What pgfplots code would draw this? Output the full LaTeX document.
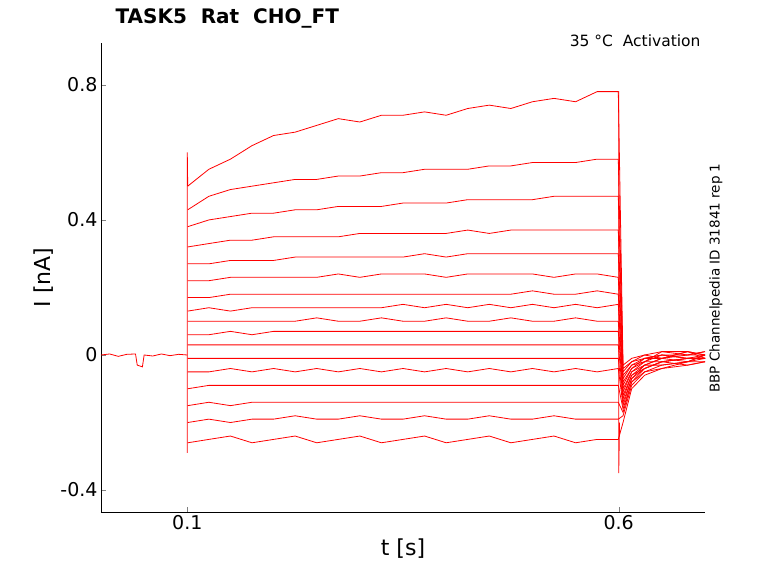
\documentclass[border=0pt]{standalone}
\usepackage{pgfplots}
\usepackage{pgfplotstable}
\pgfplotsset{compat=1.18}
\usepackage{fontspec}
\setmainfont{DejaVu Sans}
\pgfplotstableread{
t y1 y2 y3 y4 y5 y6 y7 y8 y9 y10 y11 y12 y13 y14 y15 y16 y17
0.1005 0.50 0.43 0.38 0.32 0.27 0.22 0.17 0.13 0.10 0.06 0.03 -0.01 -0.05 -0.10 -0.15 -0.20 -0.26
0.125 0.55 0.47 0.40 0.33 0.27 0.22 0.17 0.14 0.10 0.06 0.03 -0.01 -0.05 -0.09 -0.14 -0.19 -0.25
0.15 0.58 0.49 0.41 0.34 0.28 0.23 0.18 0.13 0.10 0.07 0.03 -0.01 -0.04 -0.09 -0.15 -0.20 -0.24
0.175 0.62 0.50 0.42 0.34 0.28 0.23 0.18 0.14 0.10 0.06 0.03 -0.01 -0.05 -0.09 -0.14 -0.19 -0.26
0.2 0.65 0.51 0.42 0.35 0.28 0.23 0.18 0.14 0.10 0.07 0.03 -0.01 -0.04 -0.09 -0.14 -0.19 -0.25
0.225 0.66 0.52 0.43 0.35 0.29 0.23 0.18 0.14 0.10 0.07 0.03 -0.01 -0.05 -0.09 -0.14 -0.18 -0.24
0.25 0.68 0.52 0.43 0.35 0.29 0.23 0.18 0.14 0.11 0.07 0.03 -0.01 -0.04 -0.09 -0.14 -0.19 -0.26
0.275 0.70 0.53 0.44 0.35 0.29 0.24 0.18 0.14 0.10 0.07 0.03 -0.01 -0.05 -0.09 -0.14 -0.19 -0.25
0.3 0.69 0.53 0.44 0.36 0.29 0.23 0.18 0.14 0.10 0.07 0.03 -0.01 -0.04 -0.09 -0.14 -0.18 -0.24
0.325 0.71 0.54 0.44 0.36 0.29 0.24 0.18 0.14 0.11 0.07 0.03 -0.01 -0.05 -0.09 -0.14 -0.19 -0.26
0.35 0.71 0.54 0.45 0.36 0.29 0.24 0.18 0.15 0.10 0.07 0.03 -0.01 -0.04 -0.09 -0.14 -0.19 -0.25
0.375 0.72 0.55 0.45 0.36 0.30 0.24 0.18 0.14 0.10 0.07 0.03 -0.01 -0.05 -0.09 -0.14 -0.18 -0.24
0.4 0.71 0.55 0.45 0.36 0.29 0.23 0.18 0.15 0.11 0.07 0.03 -0.01 -0.04 -0.09 -0.14 -0.19 -0.26
0.425 0.73 0.55 0.46 0.37 0.30 0.24 0.18 0.14 0.10 0.07 0.03 -0.01 -0.05 -0.09 -0.14 -0.19 -0.25
0.45 0.74 0.56 0.46 0.36 0.30 0.24 0.18 0.15 0.10 0.07 0.03 -0.01 -0.04 -0.09 -0.14 -0.18 -0.24
0.475 0.73 0.56 0.46 0.37 0.30 0.24 0.18 0.14 0.11 0.07 0.03 -0.01 -0.05 -0.09 -0.14 -0.19 -0.26
0.5 0.75 0.57 0.46 0.37 0.30 0.24 0.19 0.15 0.10 0.07 0.03 -0.01 -0.04 -0.09 -0.14 -0.19 -0.25
0.525 0.76 0.57 0.47 0.37 0.30 0.23 0.18 0.14 0.10 0.07 0.03 -0.01 -0.05 -0.09 -0.14 -0.18 -0.24
0.55 0.75 0.57 0.47 0.37 0.30 0.24 0.18 0.15 0.11 0.07 0.03 -0.01 -0.04 -0.09 -0.14 -0.19 -0.26
0.575 0.78 0.58 0.47 0.37 0.30 0.24 0.19 0.14 0.10 0.07 0.03 -0.01 -0.05 -0.09 -0.14 -0.19 -0.25
0.5995 0.78 0.58 0.47 0.37 0.30 0.23 0.18 0.15 0.10 0.07 0.03 -0.01 -0.04 -0.09 -0.14 -0.19 -0.25
0.605 -0.03 -0.04 -0.05 -0.06 -0.07 -0.08 -0.09 -0.10 -0.11 -0.12 -0.13 -0.14 -0.15 -0.16 -0.17 -0.18 -0.20
0.615 -0.01 -0.02 -0.02 -0.03 -0.03 -0.04 -0.04 -0.05 -0.05 -0.06 -0.06 -0.07 -0.07 -0.08 -0.08 -0.09 -0.10
0.63 0.00 -0.01 0.00 -0.01 -0.02 -0.01 -0.02 -0.03 -0.02 -0.03 -0.04 -0.03 -0.04 -0.05 -0.04 -0.05 -0.06
0.65 0.01 0.00 -0.01 0.00 0.01 -0.01 0.00 -0.01 -0.02 -0.01 -0.02 -0.03 -0.02 -0.03 -0.02 -0.04 -0.04
0.68 0.01 0.00 0.01 -0.01 0.00 0.01 -0.01 0.00 -0.01 -0.02 -0.01 -0.02 -0.01 -0.02 -0.03 -0.02 -0.03
0.7 0.00 0.01 -0.01 0.00 0.01 0.00 -0.01 0.00 -0.01 0.00 -0.01 -0.02 -0.01 0.00 -0.02 -0.01 -0.02
}\data
\begin{document}
\begin{tikzpicture}
\useasboundingbox (-101pt,-71pt) rectangle (677pt,512pt);
\begin{axis}[at={(0,0)}, anchor=south west, scale only axis,
  width=604pt, height=469pt,
  xmin=0, xmax=0.7, ymin=-0.465, ymax=0.924,
  axis x line*=bottom, axis y line*=left,
  xtick={0.1,0.6}, ytick={-0.4,0,0.4,0.8},
  yticklabels={-0.4,0,0.4,0.8},
  xticklabels={0.1,0.6},
  tick align=inside, major tick length=5pt,
  tick label style={font=\fontsize{19}{21}\selectfont},
  xlabel={t [s]}, ylabel={I [nA]},
  label style={font=\fontsize{22}{24}\selectfont},
  xlabel style={yshift=-2pt},
  ylabel style={yshift=0pt},
  clip=true]
\addplot[red, line width=0.8pt] coordinates {(0,0)(0.01,0.003)(0.02,-0.004)(0.03,0.002)(0.04,0.003)(0.042,-0.03)(0.048,-0.035)(0.05,0)(0.06,-0.003)(0.07,0.003)(0.08,-0.002)(0.09,0.002)(0.1,0)};
\addplot[red, line width=0.8pt] coordinates {(0.1,-0.29)(0.1,0.6)(0.1005,0.50)};
\addplot[red, line width=0.8pt] coordinates {(0.5995,0.78)(0.6,0.78)(0.6,-0.35)(0.601,-0.2)};
\pgfplotsinvokeforeach{1,...,17}{\addplot[red, line width=0.8pt] table[x=t,y=y#1]{\data};}
\end{axis}
\node[anchor=west, font=\bfseries\fontsize{20}{22}\selectfont] at (11pt,494pt) {TASK5\ \ Rat\ \ CHO\_FT};
\node[anchor=east, font=\fontsize{15.5}{17}\selectfont] at (603pt,471pt) {35 °C\ \ Activation};
\node[rotate=90, font=\fontsize{13.5}{15}\selectfont] at (615pt,234pt) {BBP Channelpedia ID 31841 rep 1};
\end{tikzpicture}
\end{document}
